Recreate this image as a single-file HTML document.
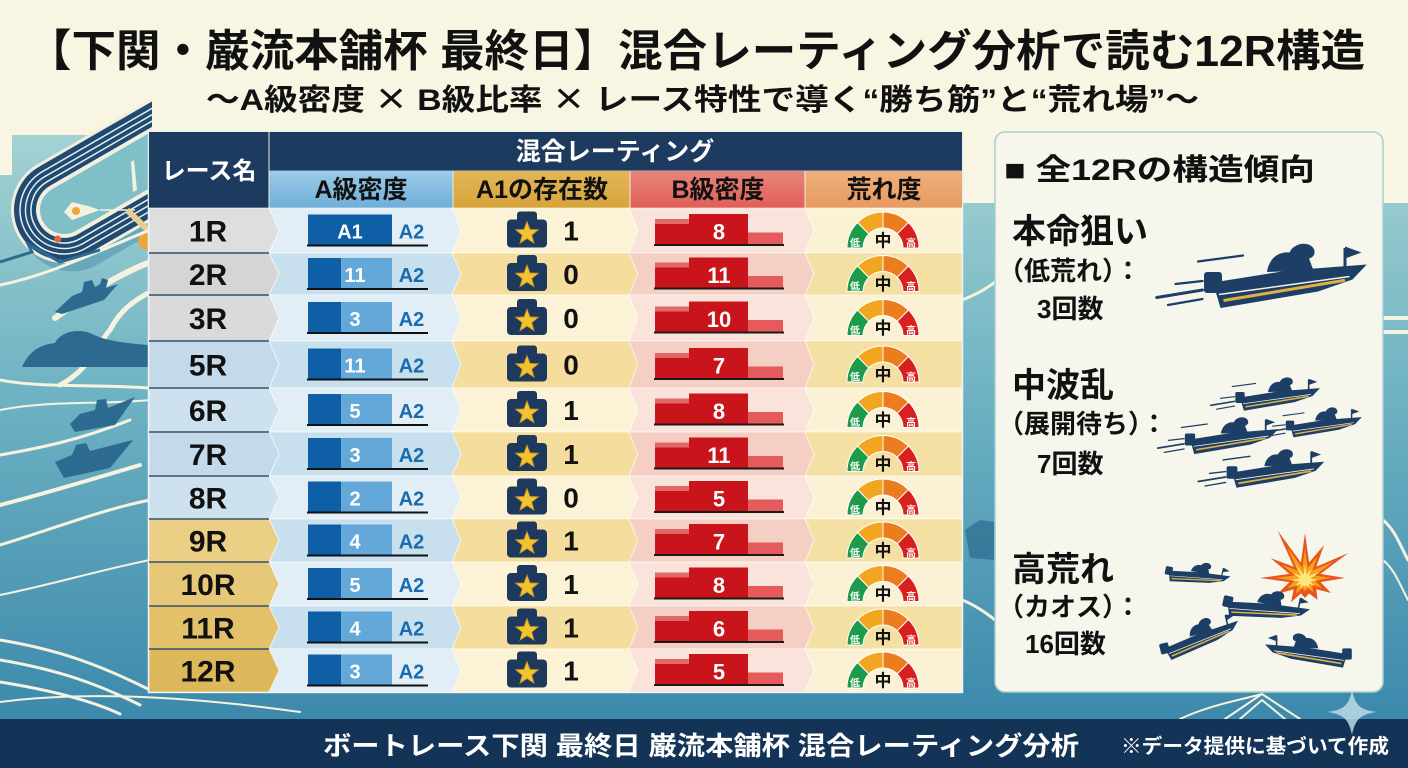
<!DOCTYPE html>
<html><head><meta charset="utf-8">
<style>
html,body{margin:0;padding:0;width:1408px;height:768px;overflow:hidden;background:#f8f5e3}
svg{display:block}
text{font-family:"Liberation Sans","Noto Sans CJK JP",sans-serif;font-weight:bold}
.rn{font-size:30px;fill:#111;text-anchor:middle}
.an{font-size:20px;fill:#fff;text-anchor:middle}
.a2{font-size:20px;fill:#1a6aae;text-anchor:middle}
.cnt{font-size:28px;fill:#111;text-anchor:middle}
.bn{font-size:22px;fill:#fff;text-anchor:middle}
.lo{font-size:10px;fill:#fff;text-anchor:middle}
.mid{font-size:17px;fill:#111;text-anchor:middle}
.sh{font-size:25px;fill:#111;text-anchor:middle}
.pt{fill:#111}
.cj{font-family:"Noto Sans CJK JP",sans-serif}
</style></head><body>
<svg width="1408" height="768" viewBox="0 0 1408 768" xmlns="http://www.w3.org/2000/svg">
<defs>
 <linearGradient id="sea" gradientUnits="userSpaceOnUse" x1="0" y1="120" x2="0" y2="719">
  <stop offset="0" stop-color="#a6d4d4"/>
  <stop offset="0.45" stop-color="#6fb3c3"/>
  <stop offset="1" stop-color="#3c89ac"/>
 </linearGradient>
 <linearGradient id="hA" x1="0" y1="0" x2="0" y2="1"><stop offset="0" stop-color="#9ccbe6"/><stop offset="1" stop-color="#6eaed9"/></linearGradient>
 <linearGradient id="hB" x1="0" y1="0" x2="0" y2="1"><stop offset="0" stop-color="#e3b656"/><stop offset="1" stop-color="#d6a43a"/></linearGradient>
 <linearGradient id="hC" x1="0" y1="0" x2="0" y2="1"><stop offset="0" stop-color="#e9857b"/><stop offset="1" stop-color="#df5f58"/></linearGradient>
 <linearGradient id="hD" x1="0" y1="0" x2="0" y2="1"><stop offset="0" stop-color="#f0b07a"/><stop offset="1" stop-color="#e89a62"/></linearGradient>
 <clipPath id="leftclip"><rect x="0" y="100" width="152" height="620"/></clipPath>
 <g id="gauge" stroke="#fff" stroke-width="1">
  <path fill="#1e9a4b" d="M-36,0 A36,36 0 0 1 -25.46,-25.46 L-14.14,-14.14 A20,20 0 0 0 -20,0 Z"/>
  <path fill="#f2a51f" d="M-25.46,-25.46 A36,36 0 0 1 0,-36 L0,-20 A20,20 0 0 0 -14.14,-14.14 Z"/>
  <path fill="#ec7d1e" d="M0,-36 A36,36 0 0 1 25.46,-25.46 L14.14,-14.14 A20,20 0 0 0 0,-20 Z"/>
  <path fill="#d8201f" d="M25.46,-25.46 A36,36 0 0 1 36,0 L20,0 A20,20 0 0 0 14.14,-14.14 Z"/>
 </g>
 <g id="star">
  <rect x="-10" y="-19" width="20" height="12" rx="3" fill="#1d3a5e"/>
  <rect x="-20" y="-11" width="40" height="28" rx="4" fill="#1d3a5e"/>
  <path transform="translate(0,3)" fill="#f3c230" stroke="#c9951a" stroke-width="0.8" d="M0,-12 L2.94,-4.05 L11.41,-3.71 L4.76,1.55 L7.05,9.71 L0,5 L-7.05,9.71 L-4.76,1.55 L-11.41,-3.71 L-2.94,-4.05 Z"/>
 </g>
 <g id="rb">
  <rect x="308" y="-16" width="33" height="30" fill="#0e5fa6"/>
  <rect x="341" y="-16" width="51" height="30" fill="#64a8d9"/>
  <rect x="307" y="14" width="121" height="2" fill="#111"/>
  <use href="#star" x="527" y="0"/>
  <rect x="655" y="-11.5" width="34" height="25" fill="#c9141c"/>
  <rect x="655" y="-11.5" width="34" height="5" fill="#e26868"/>
  <rect x="689" y="-16.5" width="59" height="30" fill="#c9141c"/>
  <rect x="748" y="2" width="35" height="11.5" fill="#e55a5a"/>
  <rect x="654" y="13.5" width="130" height="2" fill="#1a1a1a"/>
  <use href="#gauge" x="883" y="17.5"/>
 </g>
 <g id="boatBody" fill="#1d3f66">
  <path d="M0,50 L100,34 L205,26 L186,46 L140,62 L10,84 Z"/>
  <rect x="-12" y="36" width="24" height="28" rx="4"/>
  <path d="M72,36 C74,20 86,8 102,10 C106,0 122,-6 132,2 C138,8 136,16 128,18 L134,34 Z"/>
  <path d="M176,30 L176,4" stroke="#1d3f66" stroke-width="4"/>
  <path d="M176,2 L198,10 L176,18 Z"/>
  <path d="M14,74 L176,47" stroke="#e0b043" stroke-width="4"/>
  <path d="M8,66 L182,42" stroke="#f4f1e4" stroke-width="2"/>
 </g>
 <g id="speed" stroke="#1d3f66" stroke-linecap="round" fill="none">
  <path d="M-75,70 L-14,60" stroke-width="4"/>
  <path d="M-60,80 L-14,72" stroke-width="3"/>
  <path d="M-50,52 L-14,48" stroke-width="3"/>
  <path d="M-20,22 L40,14" stroke-width="3"/>
 </g>
 <polygon id="boom" points="1305,533 1309.1,562.5 1324,545.1 1316.3,566.7 1348.3,553 1320.5,573.9 1345,578 1320.5,582.1 1331,593 1316.3,589.3 1317.5,599.7 1309.1,593.5 1305,598 1300.9,593.5 1291,602.2 1293.7,589.3 1277.3,594 1289.5,582.1 1260,578 1289.5,573.9 1270.4,558 1293.7,566.7 1277.5,530.4 1300.9,562.5"/>
</defs>

<!-- background -->
<rect width="1408" height="768" fill="#f8f5e3"/>
<path d="M0,175 L12,175 L12,135 L149,135 L149,132 L962,132 L962,203 L1408,203 L1408,719 L0,719 Z" fill="url(#sea)"/>

<!-- left illustration -->
<g clip-path="url(#leftclip)">
<g transform="translate(64,210) rotate(-30)">
 <rect x="-50" y="-40" width="300" height="104" rx="52" fill="#4c93ae" opacity="0.55"/>
 <rect x="-53" y="-53" width="306" height="106" rx="53" fill="#f2eedb"/>
 <rect x="-50" y="-50" width="300" height="100" rx="50" fill="#1f4b72"/>
 <rect x="-44" y="-44" width="288" height="88" rx="44" fill="none" stroke="#e8f0ee" stroke-width="1.5"/>
 <rect x="-38.5" y="-38.5" width="277" height="77" rx="38.5" fill="none" stroke="#e8f0ee" stroke-width="1.5"/>
 <rect x="-33" y="-33" width="266" height="66" rx="33" fill="none" stroke="#e8f0ee" stroke-width="1.5"/>
 <rect x="-28" y="-28" width="256" height="56" rx="28" fill="#f3efdc"/>
 <rect x="-24" y="-24" width="248" height="48" rx="24" fill="#7fbfc8"/>
 <circle cx="-20" cy="22" r="3.5" fill="#e4693a"/>
</g>
<path d="M64,212 L72,202 L88,206 L100,210 L72,220 Z" fill="#f5f1df"/>
<path d="M100,210 L135,210" stroke="#f5f1df" stroke-width="1.5"/>
<circle cx="76" cy="211" r="4" fill="#eea43a"/>
<path d="M134,160 L137,190 L133,192 L131,162 Z" fill="#f5f1df"/>
<path d="M127,210 L150,232" stroke="#e7cf93" stroke-width="6"/>
<path d="M138,240 C140,232 148,230 152,232 L152,250 C146,252 138,248 138,240 Z" fill="#eea43a"/>
</g>
<g fill="none" stroke="#f5f2df" stroke-linecap="round">
 <path d="M0,285 C50,275 100,250 150,230" stroke-width="3"/>
 <path d="M55,318 C80,300 110,278 150,262" stroke-width="6"/>
 <path d="M60,385 C90,370 100,340 110,330 C120,310 135,300 150,292" stroke-width="5"/>
 <path d="M0,380 C40,388 90,384 150,388" stroke-width="3"/>
 <path d="M0,410 C50,400 100,405 150,400" stroke-width="2"/>
 <path d="M0,455 C40,448 80,440 130,420" stroke-width="3"/>
 <path d="M0,505 C40,495 90,480 140,465" stroke-width="4"/>
 <path d="M0,545 C50,530 100,510 150,500" stroke-width="3"/>
 <path d="M0,595 C50,585 100,570 150,560" stroke-width="2"/>
 <path d="M0,640 C60,650 100,665 150,690" stroke-width="3"/>
 <path d="M0,660 C60,670 100,685 140,705" stroke-width="3"/>
 <path d="M0,682 C50,690 90,700 120,714" stroke-width="3"/>
 <path d="M0,702 C90,690 200,698 300,712" stroke-width="2"/>
</g>
<path d="M0,262 L32,252 L28,244 L60,262 L100,250" fill="none" stroke="#2c6b8f" stroke-width="3"/>
<g fill="#2c6b8f">
 <path d="M55,312 L72,296 L82,292 L84,282 L92,280 L95,287 L100,284 L102,278 L108,280 L106,288 L118,284 L104,300 L62,314 Z"/>
 <path d="M22,367 C30,350 40,345 55,343 C60,333 75,328 90,333 C100,338 110,342 148,345 L148,367 Z"/>
 <path d="M70,424 L80,414 L95,410 L97,400 L106,399 L108,408 L135,397 L115,425 L75,432 Z"/>
 <path d="M55,462 L72,455 L76,445 L86,443 L90,451 L133,440 L110,468 L64,478 Z"/>
</g>

<!-- right-side decor -->
<g fill="none" stroke="#f5f2df" stroke-linecap="round">
 <path d="M1383,318 L1408,318" stroke-width="4"/>
 <path d="M1383,332 L1408,332" stroke-width="4"/>
 <path d="M1383,520 C1395,530 1400,545 1408,560" stroke-width="3"/>
 <path d="M1383,560 C1395,570 1400,585 1408,600" stroke-width="2"/>
 <path d="M962,300 C975,295 985,290 995,282" stroke-width="3"/>
 <path d="M962,600 C975,605 985,612 995,620" stroke-width="3"/>
 <path d="M1225,719 L1262,694 L1300,719" stroke-width="2"/>
 <path d="M1240,719 L1262,700 L1285,719" stroke-width="2"/>
 <path d="M1180,719 C1210,705 1240,700 1262,694" stroke-width="2"/>
</g>
<path d="M965,530 L980,520 L995,522 L995,560 L970,558 Z" fill="#2c6b8f" opacity="0.7"/>

<!-- table header -->
<rect x="148.5" y="131.5" width="814" height="561" fill="none" stroke="#e6eef2" stroke-width="1.5"/>
<rect x="149" y="132" width="813" height="39" fill="#1c3b5f"/>
<rect x="149" y="132" width="120" height="76" fill="#1c3b5f"/>
<rect x="269" y="170" width="693" height="1" fill="#5b7fa0"/>
<rect x="269" y="171" width="184" height="37" fill="url(#hA)"/>
<rect x="453" y="171" width="177" height="37" fill="url(#hB)"/>
<rect x="630" y="171" width="175" height="37" fill="url(#hC)"/>
<rect x="805" y="171" width="157" height="37" fill="url(#hD)"/>
<g stroke="#f2ece0" stroke-width="1"><line x1="453" y1="171" x2="453" y2="208"/><line x1="630" y1="171" x2="630" y2="208"/><line x1="805" y1="171" x2="805" y2="208"/><line x1="269" y1="132" x2="269" y2="208"/></g>
<text x="209" y="179" font-size="24" fill="#fff" text-anchor="middle">レース名</text>
<text x="615" y="160" font-size="25" fill="#fff" text-anchor="middle">混合レーティング</text>
<text x="361" y="198" class="sh">A級密度</text>
<text x="542" y="198" class="sh">A1の存在数</text>
<text x="718" y="198" class="sh">B級密度</text>
<text x="884" y="198" class="sh">荒れ度</text>

<!-- table body cells -->
<g stroke="#ffffff" stroke-opacity="0.55" stroke-width="1">
<polygon points="269,208 452,208 461,230.5 452,253 269,253 279,230.5" fill="#e1eef6"/>
<polygon points="452,208 629,208 638,230.5 629,253 452,253 461,230.5" fill="#fcf3d6"/>
<polygon points="629,208 805,208 814,230.5 805,253 629,253 638,230.5" fill="#fae3da"/>
<polygon points="805,208 962,208 962,253 805,253 814,230.5" fill="#fbf2d5"/>

<polygon points="269,253 452,253 461,274 452,295 269,295 279,274" fill="#c8e0ee"/>
<polygon points="452,253 629,253 638,274 629,295 452,295 461,274" fill="#f5dd9e"/>
<polygon points="629,253 805,253 814,274 805,295 629,295 638,274" fill="#f6cfc4"/>
<polygon points="805,253 962,253 962,295 805,295 814,274" fill="#f4e0a3"/>

<polygon points="269,295 452,295 461,318 452,341 269,341 279,318" fill="#e1eef6"/>
<polygon points="452,295 629,295 638,318 629,341 452,341 461,318" fill="#fcf3d6"/>
<polygon points="629,295 805,295 814,318 805,341 629,341 638,318" fill="#fae3da"/>
<polygon points="805,295 962,295 962,341 805,341 814,318" fill="#fbf2d5"/>

<polygon points="269,341 452,341 461,364.5 452,388 269,388 279,364.5" fill="#c8e0ee"/>
<polygon points="452,341 629,341 638,364.5 629,388 452,388 461,364.5" fill="#f5dd9e"/>
<polygon points="629,341 805,341 814,364.5 805,388 629,388 638,364.5" fill="#f6cfc4"/>
<polygon points="805,341 962,341 962,388 805,388 814,364.5" fill="#f4e0a3"/>

<polygon points="269,388 452,388 461,410 452,432 269,432 279,410" fill="#e1eef6"/>
<polygon points="452,388 629,388 638,410 629,432 452,432 461,410" fill="#fcf3d6"/>
<polygon points="629,388 805,388 814,410 805,432 629,432 638,410" fill="#fae3da"/>
<polygon points="805,388 962,388 962,432 805,432 814,410" fill="#fbf2d5"/>

<polygon points="269,432 452,432 461,454 452,476 269,476 279,454" fill="#c8e0ee"/>
<polygon points="452,432 629,432 638,454 629,476 452,476 461,454" fill="#f5dd9e"/>
<polygon points="629,432 805,432 814,454 805,476 629,476 638,454" fill="#f6cfc4"/>
<polygon points="805,432 962,432 962,476 805,476 814,454" fill="#f4e0a3"/>

<polygon points="269,476 452,476 461,497.5 452,519 269,519 279,497.5" fill="#e1eef6"/>
<polygon points="452,476 629,476 638,497.5 629,519 452,519 461,497.5" fill="#fcf3d6"/>
<polygon points="629,476 805,476 814,497.5 805,519 629,519 638,497.5" fill="#fae3da"/>
<polygon points="805,476 962,476 962,519 805,519 814,497.5" fill="#fbf2d5"/>

<polygon points="269,519 452,519 461,540.5 452,562 269,562 279,540.5" fill="#c8e0ee"/>
<polygon points="452,519 629,519 638,540.5 629,562 452,562 461,540.5" fill="#f5dd9e"/>
<polygon points="629,519 805,519 814,540.5 805,562 629,562 638,540.5" fill="#f6cfc4"/>
<polygon points="805,519 962,519 962,562 805,562 814,540.5" fill="#f4e0a3"/>

<polygon points="269,562 452,562 461,584 452,606 269,606 279,584" fill="#e1eef6"/>
<polygon points="452,562 629,562 638,584 629,606 452,606 461,584" fill="#fcf3d6"/>
<polygon points="629,562 805,562 814,584 805,606 629,606 638,584" fill="#fae3da"/>
<polygon points="805,562 962,562 962,606 805,606 814,584" fill="#fbf2d5"/>

<polygon points="269,606 452,606 461,627.5 452,649 269,649 279,627.5" fill="#c8e0ee"/>
<polygon points="452,606 629,606 638,627.5 629,649 452,649 461,627.5" fill="#f5dd9e"/>
<polygon points="629,606 805,606 814,627.5 805,649 629,649 638,627.5" fill="#f6cfc4"/>
<polygon points="805,606 962,606 962,649 805,649 814,627.5" fill="#f4e0a3"/>

<polygon points="269,649 452,649 461,670.5 452,692 269,692 279,670.5" fill="#e1eef6"/>
<polygon points="452,649 629,649 638,670.5 629,692 452,692 461,670.5" fill="#fcf3d6"/>
<polygon points="629,649 805,649 814,670.5 805,692 629,692 638,670.5" fill="#fae3da"/>
<polygon points="805,649 962,649 962,692 805,692 814,670.5" fill="#fbf2d5"/>
</g>
<g stroke="#ffffff" stroke-opacity="0.6" stroke-width="1">
<polygon points="149,208 269,208 279,230.5 269,253 149,253" fill="#dedede"/>
<polygon points="149,253 269,253 279,274 269,295 149,295" fill="#d5d5d5"/>
<polygon points="149,295 269,295 279,318 269,341 149,341" fill="#dadada"/>
<polygon points="149,341 269,341 279,364.5 269,388 149,388" fill="#c4d9ea"/>
<polygon points="149,388 269,388 279,410 269,432 149,432" fill="#cee1ee"/>
<polygon points="149,432 269,432 279,454 269,476 149,476" fill="#c4d9ea"/>
<polygon points="149,476 269,476 279,497.5 269,519 149,519" fill="#cee1ee"/>
<polygon points="149,519 269,519 279,540.5 269,562 149,562" fill="#ebcf85"/>
<polygon points="149,562 269,562 279,584 269,606 149,606" fill="#e7c878"/>
<polygon points="149,606 269,606 279,627.5 269,649 149,649" fill="#e3c16a"/>
<polygon points="149,649 269,649 279,670.5 269,692 149,692" fill="#ddb85a"/>
</g>
<g stroke="#34506b" stroke-width="1.5">
<line x1="149" y1="253" x2="269" y2="253"/><line x1="149" y1="295" x2="269" y2="295"/><line x1="149" y1="341" x2="269" y2="341"/><line x1="149" y1="388" x2="269" y2="388"/><line x1="149" y1="432" x2="269" y2="432"/><line x1="149" y1="476" x2="269" y2="476"/><line x1="149" y1="519" x2="269" y2="519"/><line x1="149" y1="562" x2="269" y2="562"/><line x1="149" y1="606" x2="269" y2="606"/><line x1="149" y1="649" x2="269" y2="649"/>
</g>

<!-- rows content -->
<g transform="translate(0,230.5)"><use href="#rb"/><rect x="341" y="-16" width="51" height="30" fill="#0e5fa6"/>
 <text x="208" y="11" class="rn">1R</text><text x="350" y="8" class="an">A1</text><text x="411.5" y="8" class="a2">A2</text>
 <text x="571" y="10" class="cnt">1</text><text x="719" y="9" class="bn">8</text>
 <text x="855" y="16" class="lo">低</text><text x="883" y="16" class="mid">中</text><text x="911" y="16" class="lo">高</text></g>
<g transform="translate(0,274)"><use href="#rb"/>
 <text x="208" y="11" class="rn">2R</text><text x="355" y="8" class="an">11</text><text x="411.5" y="8" class="a2">A2</text>
 <text x="571" y="10" class="cnt">0</text><text x="719" y="9" class="bn">11</text>
 <text x="855" y="16" class="lo">低</text><text x="883" y="16" class="mid">中</text><text x="911" y="16" class="lo">高</text></g>
<g transform="translate(0,318)"><use href="#rb"/>
 <text x="208" y="11" class="rn">3R</text><text x="355" y="8" class="an">3</text><text x="411.5" y="8" class="a2">A2</text>
 <text x="571" y="10" class="cnt">0</text><text x="719" y="9" class="bn">10</text>
 <text x="855" y="16" class="lo">低</text><text x="883" y="16" class="mid">中</text><text x="911" y="16" class="lo">高</text></g>
<g transform="translate(0,364.5)"><use href="#rb"/>
 <text x="208" y="11" class="rn">5R</text><text x="355" y="8" class="an">11</text><text x="411.5" y="8" class="a2">A2</text>
 <text x="571" y="10" class="cnt">0</text><text x="719" y="9" class="bn">7</text>
 <text x="855" y="16" class="lo">低</text><text x="883" y="16" class="mid">中</text><text x="911" y="16" class="lo">高</text></g>
<g transform="translate(0,410)"><use href="#rb"/>
 <text x="208" y="11" class="rn">6R</text><text x="355" y="8" class="an">5</text><text x="411.5" y="8" class="a2">A2</text>
 <text x="571" y="10" class="cnt">1</text><text x="719" y="9" class="bn">8</text>
 <text x="855" y="16" class="lo">低</text><text x="883" y="16" class="mid">中</text><text x="911" y="16" class="lo">高</text></g>
<g transform="translate(0,454)"><use href="#rb"/>
 <text x="208" y="11" class="rn">7R</text><text x="355" y="8" class="an">3</text><text x="411.5" y="8" class="a2">A2</text>
 <text x="571" y="10" class="cnt">1</text><text x="719" y="9" class="bn">11</text>
 <text x="855" y="16" class="lo">低</text><text x="883" y="16" class="mid">中</text><text x="911" y="16" class="lo">高</text></g>
<g transform="translate(0,497.5)"><use href="#rb"/>
 <text x="208" y="11" class="rn">8R</text><text x="355" y="8" class="an">2</text><text x="411.5" y="8" class="a2">A2</text>
 <text x="571" y="10" class="cnt">0</text><text x="719" y="9" class="bn">5</text>
 <text x="855" y="16" class="lo">低</text><text x="883" y="16" class="mid">中</text><text x="911" y="16" class="lo">高</text></g>
<g transform="translate(0,540.5)"><use href="#rb"/>
 <text x="208" y="11" class="rn">9R</text><text x="355" y="8" class="an">4</text><text x="411.5" y="8" class="a2">A2</text>
 <text x="571" y="10" class="cnt">1</text><text x="719" y="9" class="bn">7</text>
 <text x="855" y="16" class="lo">低</text><text x="883" y="16" class="mid">中</text><text x="911" y="16" class="lo">高</text></g>
<g transform="translate(0,584)"><use href="#rb"/>
 <text x="208" y="11" class="rn">10R</text><text x="355" y="8" class="an">5</text><text x="411.5" y="8" class="a2">A2</text>
 <text x="571" y="10" class="cnt">1</text><text x="719" y="9" class="bn">8</text>
 <text x="855" y="16" class="lo">低</text><text x="883" y="16" class="mid">中</text><text x="911" y="16" class="lo">高</text></g>
<g transform="translate(0,627.5)"><use href="#rb"/>
 <text x="208" y="11" class="rn">11R</text><text x="355" y="8" class="an">4</text><text x="411.5" y="8" class="a2">A2</text>
 <text x="571" y="10" class="cnt">1</text><text x="719" y="9" class="bn">6</text>
 <text x="855" y="16" class="lo">低</text><text x="883" y="16" class="mid">中</text><text x="911" y="16" class="lo">高</text></g>
<g transform="translate(0,670.5)"><use href="#rb"/>
 <text x="208" y="11" class="rn">12R</text><text x="355" y="8" class="an">3</text><text x="411.5" y="8" class="a2">A2</text>
 <text x="571" y="10" class="cnt">1</text><text x="719" y="9" class="bn">5</text>
 <text x="855" y="16" class="lo">低</text><text x="883" y="16" class="mid">中</text><text x="911" y="16" class="lo">高</text></g>

<!-- right panel -->
<rect x="995" y="132" width="388" height="560" rx="10" fill="#f7f6ec" stroke="#a8cfd0" stroke-width="1.5"/>
<text x="1004" y="180" font-size="30" class="pt" textLength="311" lengthAdjust="spacingAndGlyphs">■ 全12Rの構造傾向</text>
<text x="1012" y="243" font-size="34" class="pt">本命狙い</text>
<text x="998" y="280" font-size="26" class="pt">（低荒れ）：</text>
<text x="1037" y="318" font-size="26" class="pt">3回数</text>
<text x="1012" y="397" font-size="34" class="pt">中波乱</text>
<text x="998" y="433" font-size="26" class="pt">（展開待ち）：</text>
<text x="1037" y="473" font-size="26" class="pt">7回数</text>
<text x="1012" y="581" font-size="34" class="pt">高荒れ</text>
<text x="998" y="616" font-size="26" class="pt">（カオス）：</text>
<text x="1025" y="653" font-size="26" class="pt">16回数</text>

<!-- panel boats -->
<g transform="translate(1213,245) scale(0.75)"><use href="#speed"/><use href="#boatBody"/></g>
<g transform="translate(1240,378) scale(0.39)"><use href="#speed"/><use href="#boatBody"/></g>
<g transform="translate(1290,408) scale(0.35)"><use href="#speed"/><use href="#boatBody"/></g>
<g transform="translate(1190,418) scale(0.43)"><use href="#speed"/><use href="#boatBody"/></g>
<g transform="translate(1232,450) scale(0.45)"><use href="#speed"/><use href="#boatBody"/></g>
<use href="#boom" fill="#e8561b"/>
<use href="#boom" fill="#f6a01c" transform="translate(1305,578) scale(0.65) translate(-1305,-578)"/>
<use href="#boom" fill="#fde67a" transform="translate(1305,580) scale(0.35) translate(-1305,-578)"/>
<g transform="translate(1172,556) rotate(12) scale(0.3)"><use href="#boatBody"/></g>
<g transform="translate(1232,582) rotate(12) scale(0.4)"><use href="#boatBody"/></g>
<g transform="translate(1160,630) rotate(-14) scale(0.38)"><use href="#boatBody"/></g>
<g transform="translate(1347,634) scale(-0.4,0.4)"><use href="#boatBody"/></g>

<!-- footer -->
<rect x="0" y="719" width="1408" height="49" fill="#143457"/>
<text x="323" y="755" font-size="26" fill="#fff" textLength="756" lengthAdjust="spacingAndGlyphs">ボートレース下関 最終日 巌流本舗杯 混合レーティング分析</text>
<text x="1121" y="753" font-size="20" fill="#fff" textLength="268" lengthAdjust="spacingAndGlyphs">※データ提供に基づいて作成</text>
<path d="M1352,690 C1355,705 1360,710 1377,712 C1360,714 1355,720 1352,735 C1349,720 1344,714 1327,712 C1344,710 1349,705 1352,690 Z" fill="#bcd9e6" opacity="0.85"/>

<!-- titles -->
<text x="27" y="66" font-size="44" fill="#111" textLength="1338" lengthAdjust="spacingAndGlyphs">【下関・巌流本舗杯 最終日】混合レーティング分析で読む12R構造</text>
<text x="206" y="110" font-size="30" fill="#111" textLength="993" lengthAdjust="spacingAndGlyphs">〜A級密度 <tspan class="cj">×</tspan> B級比率 <tspan class="cj">×</tspan> レース特性で導く“勝ち筋”と“荒れ場”〜</text>
</svg>
</body></html>
